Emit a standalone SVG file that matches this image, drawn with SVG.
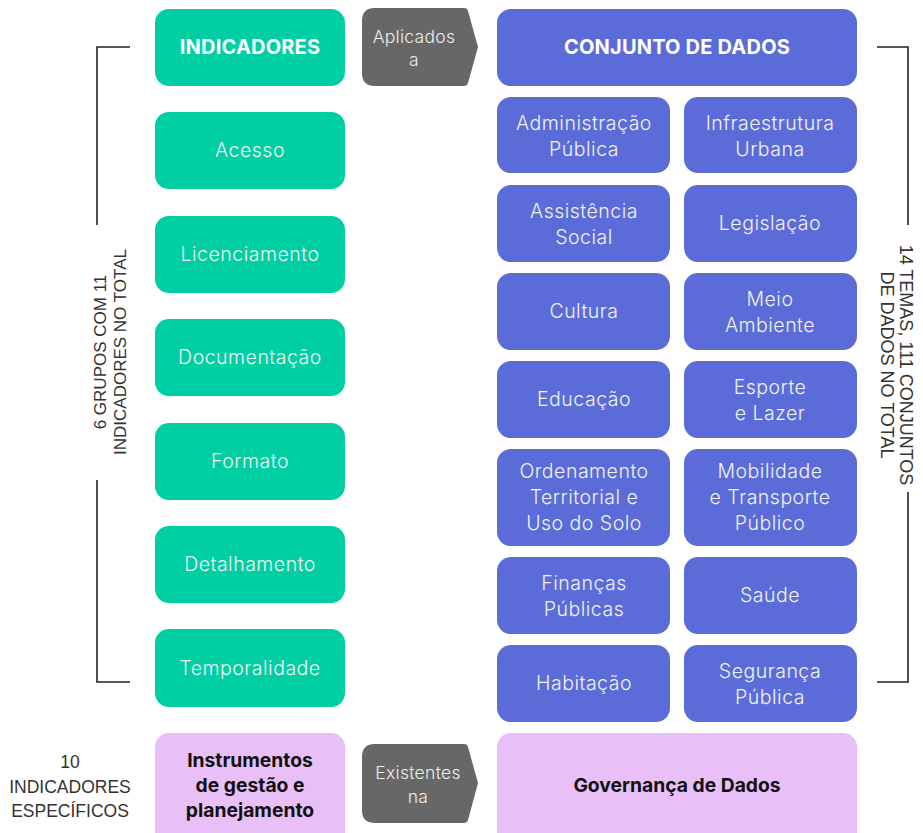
<svg xmlns="http://www.w3.org/2000/svg" width="923" height="833" viewBox="0 0 923 833">
<style>
.g{fill:#00CFA3}
.b{fill:#5B6CD9}
.p{fill:#E8BFF6}
.a{fill:#676767}
.t{font-family:Inter,"Noto Sans",sans-serif;font-size:19.5px;font-weight:300;fill:#F2F2F2;text-anchor:middle;letter-spacing:0.5px}
.tb{font-family:Inter,"Noto Sans",sans-serif;font-size:20px;font-weight:700;fill:#FFFFFF;text-anchor:middle;letter-spacing:0.2px}
.tk{font-family:Inter,"Noto Sans",sans-serif;font-size:19.3px;font-weight:700;fill:#111111;text-anchor:middle}
.ta{font-family:Inter,"Noto Sans",sans-serif;font-size:17.5px;font-weight:300;fill:#EEEEEE;text-anchor:middle;letter-spacing:0.3px}
.s{font-family:"Liberation Sans",Arial,sans-serif;font-size:17px;fill:#333333;text-anchor:middle}
.ln{fill:none;stroke:#222222;stroke-width:1.6}
</style>
<rect width="923" height="833" fill="#FFFFFF"/>
<g id="brackets">
<path class="ln" d="M130,47 H97 V225 M97,480 V682 H130"/>
<path class="ln" d="M877,47 H908 V225 M908,492 V682 H877"/>
</g>
<g id="label-left">
<text class="s" transform="translate(106,352) rotate(-90)">6  GRUPOS COM 11</text>
<text class="s" transform="translate(126,352) rotate(-90)">INDICADORES NO TOTAL</text>
</g>
<g id="label-right">
<text class="s" style="font-size:18px" transform="translate(900,365) rotate(90)">14 TEMAS, 111 CONJUNTOS</text>
<text class="s" style="font-size:18px" transform="translate(881,365) rotate(90)">DE DADOS NO TOTAL</text>
</g>
<g id="label-bottom">
<text class="s" style="font-size:17.5px" x="70" y="768">10</text>
<text class="s" style="font-size:17.5px" x="70" y="793">INDICADORES</text>
<text class="s" style="font-size:17.5px" x="70" y="817">ESPECÍFICOS</text>
</g>
<g id="n-indicadores"><rect class="g" x="155" y="9" width="190" height="77" rx="14"/><text class="tb" x="250" y="54">INDICADORES</text></g>
<g id="n-acesso"><rect class="g" x="155" y="112" width="190" height="77" rx="14"/><text class="t" x="250" y="157">Acesso</text></g>
<g id="n-licenciamento"><rect class="g" x="155" y="216" width="190" height="77" rx="14"/><text class="t" x="250" y="261">Licenciamento</text></g>
<g id="n-documentacao"><rect class="g" x="155" y="319" width="190" height="77" rx="14"/><text class="t" x="250" y="364">Documentação</text></g>
<g id="n-formato"><rect class="g" x="155" y="423" width="190" height="77" rx="14"/><text class="t" x="250" y="468">Formato</text></g>
<g id="n-detalhamento"><rect class="g" x="155" y="526" width="190" height="77" rx="14"/><text class="t" x="250" y="571">Detalhamento</text></g>
<g id="n-temporalidade"><rect class="g" x="155" y="629" width="190" height="78" rx="14"/><text class="t" x="250" y="675">Temporalidade</text></g>
<g id="n-instrumentos"><rect class="p" x="155" y="733" width="190" height="115" rx="14"/>
<text class="tk" x="250" y="767">Instrumentos</text><text class="tk" x="250" y="792">de gestão e</text><text class="tk" x="250" y="817">planejamento</text></g>
<g id="connectors">
<g id="arrow-aplicados"><path class="a" d="M375,8 H464 Q467,8 468,11 L478,47 L468,83 Q467,86 464,86 H375 Q362,86 362,73 V21 Q362,8 375,8 Z"/>
<text class="ta" x="414" y="43">Aplicados</text><text class="ta" x="414" y="66">a</text></g>
<g id="arrow-existentes"><path class="a" d="M375,744 H464 Q467,744 468,747 L478,783 L468,820 Q467,823 464,823 H375 Q362,823 362,810 V757 Q362,744 375,744 Z"/>
<text class="ta" x="418" y="779">Existentes</text><text class="ta" x="418" y="803">na</text></g>
</g>
<g id="n-conjunto"><rect class="b" x="497" y="9" width="360" height="77" rx="14"/><text class="tb" x="677" y="54">CONJUNTO DE DADOS</text></g>
<g id="n-administracao"><rect class="b" x="497" y="97" width="173" height="76" rx="14"/><text class="t" x="584" y="129.5">Administração</text><text class="t" x="584" y="155.5">Pública</text></g>
<g id="n-infraestrutura"><rect class="b" x="684" y="97" width="173" height="76" rx="14"/><text class="t" x="770" y="129.5">Infraestrutura</text><text class="t" x="770" y="155.5">Urbana</text></g>
<g id="n-assistencia"><rect class="b" x="497" y="185" width="173" height="77" rx="14"/><text class="t" x="584" y="217.5">Assistência</text><text class="t" x="584" y="243.5">Social</text></g>
<g id="n-legislacao"><rect class="b" x="684" y="185" width="173" height="77" rx="14"/><text class="t" x="770" y="230">Legislação</text></g>
<g id="n-cultura"><rect class="b" x="497" y="273" width="173" height="77" rx="14"/><text class="t" x="584" y="318">Cultura</text></g>
<g id="n-meio"><rect class="b" x="684" y="273" width="173" height="77" rx="14"/><text class="t" x="770" y="305.5">Meio</text><text class="t" x="770" y="331.5">Ambiente</text></g>
<g id="n-educacao"><rect class="b" x="497" y="361" width="173" height="77" rx="14"/><text class="t" x="584" y="406">Educação</text></g>
<g id="n-esporte"><rect class="b" x="684" y="361" width="173" height="77" rx="14"/><text class="t" x="770" y="393.5">Esporte</text><text class="t" x="770" y="419.5">e Lazer</text></g>
<g id="n-ordenamento"><rect class="b" x="497" y="449" width="173" height="97" rx="14"/><text class="t" x="584" y="478">Ordenamento</text><text class="t" x="584" y="504">Territorial e</text><text class="t" x="584" y="530">Uso do Solo</text></g>
<g id="n-mobilidade"><rect class="b" x="684" y="449" width="173" height="97" rx="14"/><text class="t" x="770" y="478">Mobilidade</text><text class="t" x="770" y="504">e Transporte</text><text class="t" x="770" y="530">Público</text></g>
<g id="n-financas"><rect class="b" x="497" y="557" width="173" height="77" rx="14"/><text class="t" x="584" y="589.5">Finanças</text><text class="t" x="584" y="615.5">Públicas</text></g>
<g id="n-saude"><rect class="b" x="684" y="557" width="173" height="77" rx="14"/><text class="t" x="770" y="602">Saúde</text></g>
<g id="n-habitacao"><rect class="b" x="497" y="645" width="173" height="77" rx="14"/><text class="t" x="584" y="690">Habitação</text></g>
<g id="n-seguranca"><rect class="b" x="684" y="645" width="173" height="77" rx="14"/><text class="t" x="770" y="677.5">Segurança</text><text class="t" x="770" y="703.5">Pública</text></g>
<g id="n-governanca"><rect class="p" x="497" y="733" width="360" height="115" rx="14"/><text class="tk" x="677" y="792">Governança de Dados</text></g>
</svg>
